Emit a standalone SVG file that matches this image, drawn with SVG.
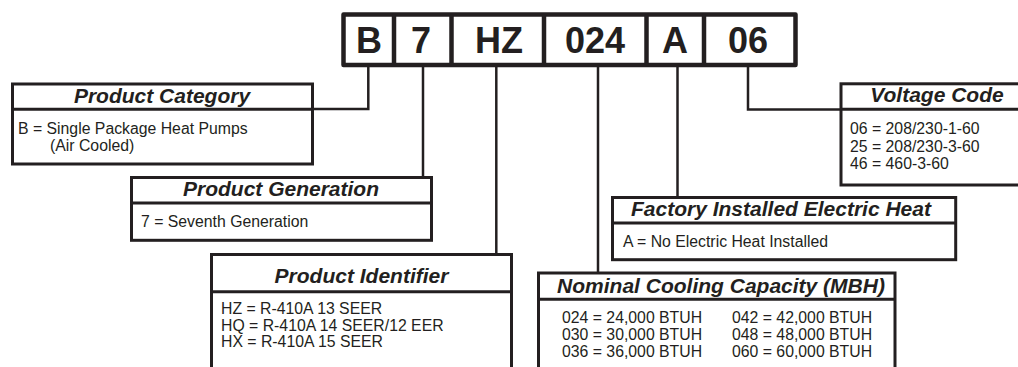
<svg xmlns="http://www.w3.org/2000/svg" width="1018" height="367" viewBox="0 0 1018 367">
<style>
.code{fill:none;stroke:#231f20;stroke-width:4.5;stroke-linejoin:round}
.div{stroke:#231f20;stroke-width:4.5}
.ct{font-family:"Liberation Sans",Arial,sans-serif;font-weight:bold;font-size:36px;fill:#231f20;text-anchor:middle}
.box{fill:#fff;stroke:#231f20;stroke-width:3}
.hl{stroke:#231f20;stroke-width:3}
.hd{font-family:"Liberation Sans",Arial,sans-serif;font-weight:bold;font-style:italic;font-size:21px;fill:#231f20;text-anchor:middle}
.bd{font-family:"Liberation Sans",Arial,sans-serif;font-size:15.8px;fill:#231f20}
.conn line,.conn polyline{fill:none;stroke:#231f20;stroke-width:2.5}
</style>
<rect width="1018" height="367" fill="#fff"/>
<g id="code">
<rect class="code" x="343.5" y="14.5" width="452" height="50.5"/>
<line class="div" x1="394" y1="14.5" x2="394" y2="65"/>
<line class="div" x1="451.5" y1="14.5" x2="451.5" y2="65"/>
<line class="div" x1="544" y1="14.5" x2="544" y2="65"/>
<line class="div" x1="646.5" y1="14.5" x2="646.5" y2="65"/>
<line class="div" x1="704" y1="14.5" x2="704" y2="65"/>
<text class="ct" x="369" y="53">B</text>
<text class="ct" x="421" y="53">7</text>
<text class="ct" x="499" y="53">HZ</text>
<text class="ct" x="595" y="53">024</text>
<text class="ct" x="675" y="53">A</text>
<text class="ct" x="748" y="53">06</text>
</g>
<g class="conn">
<polyline points="368.3,67 368.3,109 313,109"/>
<line x1="423" y1="67" x2="423" y2="177"/>
<line x1="496.3" y1="67" x2="496.3" y2="254"/>
<line x1="598" y1="67" x2="598" y2="273"/>
<line x1="677.5" y1="67" x2="677.5" y2="197"/>
<polyline points="748,67 748,109.5 841,109.5"/>
</g>
<g id="category">
<rect class="box" x="12.5" y="84" width="300" height="80"/>
<line class="hl" x1="12.5" y1="109.3" x2="312.5" y2="109.3"/>
<text class="hd" x="162" y="103">Product Category</text>
<text class="bd" x="18" y="134">B = Single Package Heat Pumps</text>
<text class="bd" x="50" y="151">(Air Cooled)</text>
</g>
<g id="generation">
<rect class="box" x="131.5" y="177.5" width="300" height="62.8"/>
<line class="hl" x1="131.5" y1="203" x2="431.5" y2="203"/>
<text class="hd" x="281" y="196">Product Generation</text>
<text class="bd" x="141" y="227">7 = Seventh Generation</text>
</g>
<g id="identifier">
<rect class="box" x="211.5" y="254.5" width="300" height="130"/>
<line class="hl" x1="211.5" y1="291.7" x2="511.5" y2="291.7"/>
<text class="hd" x="361.5" y="283">Product Identifier</text>
<text class="bd" x="221" y="314">HZ = R-410A 13 SEER</text>
<text class="bd" x="221" y="330.5">HQ = R-410A 14 SEER/12 EER</text>
<text class="bd" x="221" y="347">HX = R-410A 15 SEER</text>
</g>
<g id="capacity">
<rect class="box" x="538.5" y="273" width="356.5" height="110"/>
<line class="hl" x1="538.5" y1="299.3" x2="895" y2="299.3"/>
<text class="hd" x="721" y="293">Nominal Cooling Capacity (MBH)</text>
<text class="bd" x="562" y="323">024 = 24,000 BTUH</text>
<text class="bd" x="562" y="340">030 = 30,000 BTUH</text>
<text class="bd" x="562" y="357">036 = 36,000 BTUH</text>
<text class="bd" x="732" y="323">042 = 42,000 BTUH</text>
<text class="bd" x="732" y="340">048 = 48,000 BTUH</text>
<text class="bd" x="732" y="357">060 = 60,000 BTUH</text>
</g>
<g id="heat">
<rect class="box" x="612.5" y="197.5" width="343.2" height="62.2"/>
<line class="hl" x1="612.5" y1="223" x2="955.7" y2="223"/>
<text class="hd" x="781" y="216">Factory Installed Electric Heat</text>
<text class="bd" x="623" y="247">A = No Electric Heat Installed</text>
</g>
<g id="voltage">
<rect class="box" x="841" y="83.8" width="190" height="101.2"/>
<line class="hl" x1="841" y1="109.2" x2="1031" y2="109.2"/>
<text class="hd" x="937" y="102">Voltage Code</text>
<text class="bd" x="850" y="134">06 = 208/230-1-60</text>
<text class="bd" x="850" y="151.5">25 = 208/230-3-60</text>
<text class="bd" x="850" y="169">46 = 460-3-60</text>
</g>
</svg>
